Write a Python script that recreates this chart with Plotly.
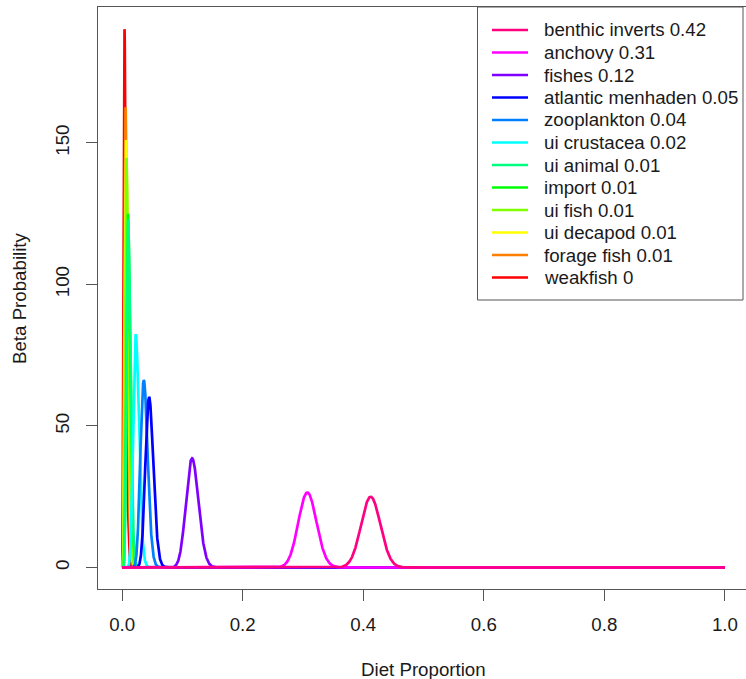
import math
import numpy as np
import plotly.graph_objects as go

# ---------------- data ----------------
labels = ["benthic inverts 0.42", "anchovy 0.31", "fishes 0.12", "atlantic menhaden 0.05",
          "zooplankton 0.04", "ui crustacea 0.02", "ui animal 0.01", "import 0.01",
          "ui fish 0.01", "ui decapod 0.01", "forage fish 0.01", "weakfish 0"]
# location (diet proportion) of each curve's peak
peak_x = [0.4124, 0.3073, 0.1160, 0.0448, 0.0360, 0.0227,
          0.0100, 0.0097, 0.0072, 0.0066, 0.0057, 0.0039]
# height (beta probability) of each curve's peak
peak_y = [25.0, 26.5, 38.6, 60.2, 66.2, 82.4,
          123.0, 125.0, 144.7, 151.0, 162.7, 190.4]
colors = ["#FF0080", "#FF00FF", "#8000FF", "#0000FF", "#0080FF", "#00FFFF",
          "#00FF80", "#00FF00", "#80FF00", "#FFFF00", "#FF8000", "#FF0000"]
x_tick_vals = [0.0, 0.2, 0.4, 0.6, 0.8, 1.0]
x_tick_text = ["0.0", "0.2", "0.4", "0.6", "0.8", "1.0"]
y_tick_vals = [0, 50, 100, 150]
y_tick_text = ["0", "50", "100", "150"]


# ---------------- beta densities matching peak location / height ----------------
def lbeta(a, b):
    return math.lgamma(a) + math.lgamma(b) - math.lgamma(a + b)


def params(n, m):
    a = 1.0 + m * (n - 2.0)
    b = 1.0 + (1.0 - m) * (n - 2.0)
    return a, b


def peak_height(n, m):
    a, b = params(n, m)
    return math.exp((a - 1) * math.log(m) + (b - 1) * math.log(1 - m) - lbeta(a, b))


def solve(m, h):
    lo, hi = 2.5, 1e6
    for _ in range(200):
        mid = math.sqrt(lo * hi)
        if peak_height(mid, m) < h:
            lo = mid
        else:
            hi = mid
    return params(math.sqrt(lo * hi), m)


xs = np.linspace(0.0, 1.0, 5001)
inner = xs[1:-1]

fig = go.Figure()
order = list(range(len(labels)))[::-1]  # first legend entry drawn last (on top)
for i in order:
    a, b = solve(peak_x[i], peak_y[i])
    ys = np.zeros_like(xs)
    ys[1:-1] = np.exp((a - 1) * np.log(inner) + (b - 1) * np.log(1 - inner) - lbeta(a, b))
    fig.add_trace(go.Scatter(x=xs, y=ys, mode="lines", name=labels[i],
                             line=dict(color=colors[i], width=2.7),
                             showlegend=False, hoverinfo="skip"))

# ---------------- layout ----------------
W, H = 746, 679
ML, MR, MT, MB = 98, 0, 7, 90
PW, PH = W - ML - MR, H - MT - MB
FONT = "Liberation Sans, Arial, Helvetica, sans-serif"
FS = 18.7
AXC = "#555555"
TXT = "#1a1a1a"


def px_x(p):
    return (p - ML) / PW


def px_y(p):
    return (MT + PH - p) / PH


shapes = []
annotations = []

# legend box
shapes.append(dict(type="rect", xref="paper", yref="paper",
                   x0=px_x(477.5), x1=px_x(743), y0=px_y(300), y1=1.0,
                   line=dict(color=AXC, width=1), fillcolor="white", layer="above"))
row0, step = 30.0, 22.5
for i, lab in enumerate(labels):
    yc = px_y(row0 + step * i)
    shapes.append(dict(type="line", xref="paper", yref="paper",
                       x0=px_x(492), x1=px_x(528), y0=yc, y1=yc,
                       line=dict(color=colors[i], width=2.7), layer="above"))
    annotations.append(dict(xref="paper", yref="paper", x=px_x(542), y=yc,
                            xanchor="left", yanchor="middle", text=lab, showarrow=False,
                            font=dict(family=FONT, size=FS, color=TXT)))

# axis titles
annotations.append(dict(xref="paper", yref="paper", x=px_x(423.5), y=px_y(669),
                        xanchor="center", yanchor="middle", text="Diet Proportion",
                        showarrow=False, font=dict(family=FONT, size=FS, color=TXT)))
annotations.append(dict(xref="paper", yref="paper", x=px_x(19), y=px_y(298),
                        xanchor="center", yanchor="middle", text="Beta Probability",
                        textangle=-90, showarrow=False,
                        font=dict(family=FONT, size=FS, color=TXT)))

fig.update_layout(
    width=W, height=H,
    margin=dict(l=ML, r=MR, t=MT, b=MB, pad=0),
    paper_bgcolor="white", plot_bgcolor="white",
    shapes=shapes, annotations=annotations,
    showlegend=False,
    font=dict(family=FONT, size=FS, color=TXT),
)
fig.update_xaxes(range=[-0.04, 1.035], tickvals=x_tick_vals, ticktext=x_tick_text,
                 showgrid=False, zeroline=False, showline=True, mirror=True,
                 linecolor=AXC, linewidth=1, ticks="outside", ticklen=11,
                 tickcolor=AXC, tickwidth=1, ticklabelstandoff=8,
                 tickfont=dict(family=FONT, size=FS, color=TXT))
fig.update_yaxes(range=[-7.6, 198], tickvals=y_tick_vals, ticktext=y_tick_text,
                 showgrid=False, zeroline=False, showline=True, mirror=False,
                 linecolor=AXC, linewidth=1, ticks="outside", ticklen=11,
                 tickcolor=AXC, tickwidth=1, tickangle=-90, ticklabelstandoff=10,
                 tickfont=dict(family=FONT, size=FS, color=TXT))

fig.write_html("out.html", config={"displayModeBar": False},
               post_script="document.body.style.margin='0';document.body.style.overflow='hidden';")
